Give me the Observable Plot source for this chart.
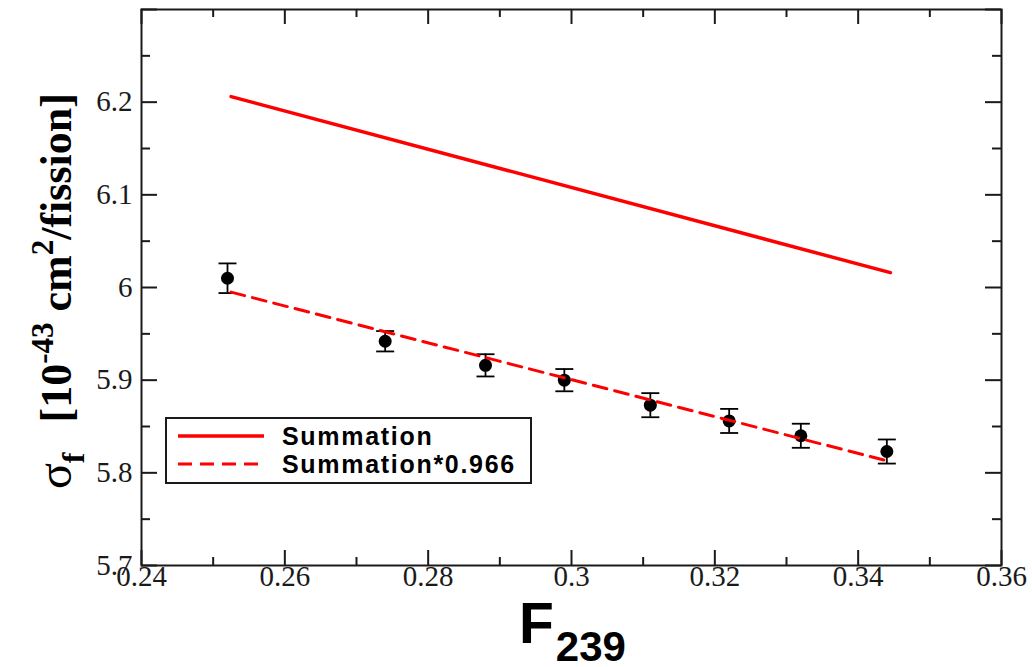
<!DOCTYPE html>
<html><head><meta charset="utf-8">
<script src="https://cdn.jsdelivr.net/npm/d3@7"></script>
<script src="https://cdn.jsdelivr.net/npm/@observablehq/plot@0.6"></script>
<style>body{margin:0;background:#fff}</style>
</head><body><div id="chart"></div>
<script>
// ---- data ----
const f239 = [0.252, 0.274, 0.288, 0.299, 0.311, 0.322, 0.332, 0.344];
const sigma = [6.010, 5.942, 5.916, 5.900, 5.873, 5.856, 5.840, 5.823];
const sigmaErr = [0.016, 0.011, 0.012, 0.012, 0.013, 0.013, 0.013, 0.013];
const lineX = [0.2525, 0.3445];
const summation = [6.206, 6.016];
const summationScaled = [5.995, 5.812];
const xMajorTicks = [0.24, 0.26, 0.28, 0.30, 0.32, 0.34, 0.36];
const xMinorTicks = [0.25, 0.27, 0.29, 0.31, 0.33, 0.35];
const yMajorTicks = [5.7, 5.8, 5.9, 6.0, 6.1, 6.2, 6.3];
const yMinorTicks = [5.75, 5.85, 5.95, 6.05, 6.15, 6.25];
const yTickLabels = [5.7, 5.8, 5.9, 6.0, 6.1, 6.2];
const legendLabels = ["Summation", "Summation*0.966"];

const W = 1032, H = 667, mL = 141, mR = 31, mT = 9, mB = 102;
const innerW = W - mL - mR, innerH = H - mT - mB;
const serif = "Liberation Serif, Times New Roman, serif";
const sans = "Liberation Sans, Arial, sans-serif";

const points = f239.map((x, i) => ({x, y: sigma[i], lo: sigma[i] - sigmaErr[i], hi: sigma[i] + sigmaErr[i]}));
const sumLine = lineX.map((x, i) => ({x, y: summation[i]}));
const scaledLine = lineX.map((x, i) => ({x, y: summationScaled[i]}));

const cap = {draw(ctx, size) { const r = Math.sqrt(size / Math.PI); ctx.moveTo(-r, 0); ctx.lineTo(r, 0); }};
const ink = "#1a1a1a";

const svg = Plot.plot({
  width: W, height: H,
  marginLeft: mL, marginRight: mR, marginTop: mT, marginBottom: mB,
  x: {domain: [0.24, 0.36], axis: null},
  y: {domain: [5.7, 6.3], axis: null},
  style: {background: "white"},
  marks: [
    // ticks, inward on all four sides
    Plot.tickX(xMajorTicks, {x: d => d, insetTop: innerH - 15, stroke: ink, strokeWidth: 2}),
    Plot.tickX(xMajorTicks, {x: d => d, insetBottom: innerH - 15, stroke: ink, strokeWidth: 2}),
    Plot.tickX(xMinorTicks, {x: d => d, insetTop: innerH - 8, stroke: ink, strokeWidth: 2}),
    Plot.tickX(xMinorTicks, {x: d => d, insetBottom: innerH - 8, stroke: ink, strokeWidth: 2}),
    Plot.tickY(yMajorTicks, {y: d => d, insetRight: innerW - 16, stroke: ink, strokeWidth: 2}),
    Plot.tickY(yMajorTicks, {y: d => d, insetLeft: innerW - 16, stroke: ink, strokeWidth: 2}),
    Plot.tickY(yMinorTicks, {y: d => d, insetRight: innerW - 9, stroke: ink, strokeWidth: 2}),
    Plot.tickY(yMinorTicks, {y: d => d, insetLeft: innerW - 9, stroke: ink, strokeWidth: 2}),
    // tick labels
    Plot.text(xMajorTicks, {x: d => d, frameAnchor: "bottom", lineAnchor: "top", dy: 0, text: d => String(d), fontSize: 29, fontFamily: serif, fill: ink}),
    Plot.text(yTickLabels, {y: d => d, frameAnchor: "left", textAnchor: "end", dx: -9, text: d => String(d), fontSize: 29, fontFamily: serif, fill: ink}),
    Plot.frame({stroke: ink, strokeWidth: 2}),
    // data
    Plot.ruleX(points, {x: "x", y1: "lo", y2: "hi", stroke: "black", strokeWidth: 1.8}),
    Plot.dot(points, {x: "x", y: "lo", symbol: cap, r: 9, stroke: "black", fill: "none", strokeWidth: 1.8}),
    Plot.dot(points, {x: "x", y: "hi", symbol: cap, r: 9, stroke: "black", fill: "none", strokeWidth: 1.8}),
    Plot.dot(points, {x: "x", y: "y", r: 6.5, fill: "black", stroke: "none"}),
    Plot.line(sumLine, {x: "x", y: "y", stroke: "#ff0000", strokeWidth: 3.5}),
    Plot.line(scaledLine, {x: "x", y: "y", stroke: "#ff0000", strokeWidth: 3, strokeDasharray: "14,8"})
  ]
});

const s = d3.select(svg);
// y-axis label (rotated)
const yl = s.append("text")
  .attr("transform", "translate(71,489) rotate(-90)")
  .attr("text-anchor", "start")
  .attr("font-family", serif).attr("font-weight", "bold").attr("font-size", 44).attr("fill", "black");
yl.append("tspan").attr("font-weight", "normal").attr("font-size", 48).text("σ");
yl.append("tspan").attr("font-size", 32).attr("dy", 13).text("f");
yl.append("tspan").attr("dy", -13).attr("dx", 30).text("[10");
yl.append("tspan").attr("font-size", 31).attr("dy", -18).text("-43");
yl.append("tspan").attr("dy", 18).text(" cm");
yl.append("tspan").attr("font-size", 31).attr("dy", -18).text("2");
yl.append("tspan").attr("dy", 18).text("/fission]");

// x-axis label
const xl = s.append("text").attr("x", 519).attr("y", 643).attr("text-anchor", "start")
  .attr("font-family", sans).attr("font-weight", "bold").attr("font-size", 57).attr("fill", "black");
xl.append("tspan").text("F");
xl.append("tspan").attr("font-size", 42).attr("dy", 18).attr("dx", 2).text("239");

// legend (inside plot area)
const lg = s.append("g");
lg.append("rect").attr("x", 166).attr("y", 418).attr("width", 365).attr("height", 65)
  .attr("fill", "white").attr("stroke", ink).attr("stroke-width", 2);
lg.append("line").attr("x1", 178).attr("x2", 264).attr("y1", 436).attr("y2", 436)
  .attr("stroke", "#ff0000").attr("stroke-width", 3.5);
lg.append("line").attr("x1", 178).attr("x2", 264).attr("y1", 464).attr("y2", 464)
  .attr("stroke", "#ff0000").attr("stroke-width", 3).attr("stroke-dasharray", "14,8");
legendLabels.forEach((t, i) => {
  lg.append("text").attr("x", 282).attr("y", 445 + i * 28).text(t)
    .attr("text-anchor", "start")
    .attr("font-family", sans).attr("font-weight", "bold").attr("font-size", 25)
    .attr("letter-spacing", 1.7).attr("fill", "black");
});

document.getElementById("chart").append(svg);
</script>
</body></html>
